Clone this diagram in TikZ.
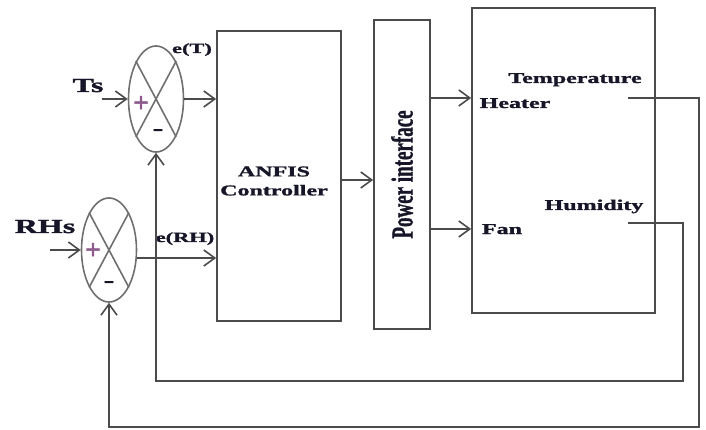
\documentclass[tikz,border=0pt]{standalone}
\usepackage{fontspec}
\setmainfont{Liberation Serif}[BoldFeatures={FakeBold=1.2}]
\usetikzlibrary{shapes.geometric,arrows.meta}
\definecolor{wirecol}{RGB}{75,75,75}
\definecolor{txtcol}{RGB}{22,22,40}
\definecolor{pluscol}{RGB}{140,90,140}
\newcommand{\wtxt}[1]{\scalebox{1.6}[1]{#1}}

\begin{document}
\begin{tikzpicture}[x=1pt,y=-1pt]
\tikzset{sumpoint/.style = {ellipse, draw=wirecol!80, line width=1.6pt, minimum width=55pt, minimum height=106pt, inner sep=0pt}}
\tikzset{blkbox/.style = {rectangle, draw=wirecol, line width=1.7pt, inner sep=0pt}}
\tikzset{lbl/.style = {font=\bfseries\fontsize{15}{19}\selectfont, text=txtcol, inner sep=0pt, anchor=base}}
\tikzset{wire/.style = {draw=wirecol, line width=1.6pt}}
\tikzset{arr/.style = {wire, -{Straight Barb[length=11pt,width=16pt]}}}
\tikzset{plussign/.style = {text=pluscol, font=\bfseries\fontsize{28}{28}\selectfont, inner sep=0pt}}
\tikzset{minussign/.style = {text=txtcol, font=\bfseries\fontsize{20}{20}\selectfont, inner sep=0pt}}
\useasboundingbox (0,0) rectangle (706,430);

% summing points
    \node[sumpoint] (sT) at (156,99) {};
    \node[sumpoint, minimum height=104pt] (sRH) at (109,250) {};
\draw[wire, draw=wirecol!80] (sT.62)--(sT.242);
\draw[wire, draw=wirecol!80] (sT.118)--(sT.298);
\draw[wire, draw=wirecol!80] (sRH.62)--(sRH.242);
\draw[wire, draw=wirecol!80] (sRH.118)--(sRH.298);

    \node[plussign] (pT) at (141,104) {+};
    \node[minussign] (mT) at (158,132) {\wtxt{-}};
    \node[plussign] (pRH) at (93,251) {+};
    \node[minussign] (mRH) at (109,284) {\wtxt{-}};

% blocks
    \node[blkbox, minimum width=124pt, minimum height=290pt] (anfis) at (279,176) {};
    \node[blkbox, minimum width=56pt, minimum height=309pt, font=\bfseries\fontsize{19}{19}\selectfont, text=txtcol] (pwr) at (402,174.5) {\scalebox{1.6}[1]{\rotatebox{90}{Power interface}}};
    \node[blkbox, minimum width=183pt, minimum height=305pt] (plant) at (563.5,160.5) {};

% labels
    \node[lbl, font=\bfseries\fontsize{20}{20}\selectfont] (Ts) at (88,92) {\wtxt{Ts}};
    \node[lbl, font=\bfseries\fontsize{20}{20}\selectfont] (RHs) at (45,233) {\wtxt{RHs}};
    \node[lbl, font=\bfseries\fontsize{14}{14}\selectfont] (eT) at (192,53) {\wtxt{e(T)}};
    \node[lbl, font=\bfseries\fontsize{14}{14}\selectfont] (eRH) at (185,242) {\wtxt{e(RH)}};
    \node[lbl, anchor=center, align=center] (anfisTxt) at (274,181) {\wtxt{ANFIS}\\\wtxt{Controller}};
    \node[lbl] (temp) at (575,83) {\wtxt{Temperature}};
    \node[lbl] (heat) at (515,108) {\wtxt{Heater}};
    \node[lbl] (hum) at (594,210) {\wtxt{Humidity}};
    \node[lbl] (fan) at (502,234) {\wtxt{Fan}};

% inputs and forward path
\coordinate (tsIn) at (102,99);
\coordinate (rhIn) at (50,250);
\draw[arr] (tsIn)--(sT.west);
\draw[arr] (rhIn)--(sRH.west);
\draw[arr] (sT.east)--(sT.east -| anfis.west);
\draw[arr] (sRH.-16)--(sRH.-16 -| anfis.west);
\draw[arr] ([yshift=-4pt]anfis.east)--([yshift=-4pt]anfis.east -| pwr.west);
\draw[arr] (pwr.east |- 0,98)--(plant.west |- 0,98);
\draw[arr] (pwr.east |- 0,229)--(plant.west |- 0,229);

% feedback
\coordinate (tOut) at (628,98);
\coordinate (hOut) at (628,223);
\draw[arr] (tOut) -| (699,427) -| (sRH.south);
\draw[arr] (hOut) -| (683,381) -| (sT.south);

\end{tikzpicture}
\end{document}
